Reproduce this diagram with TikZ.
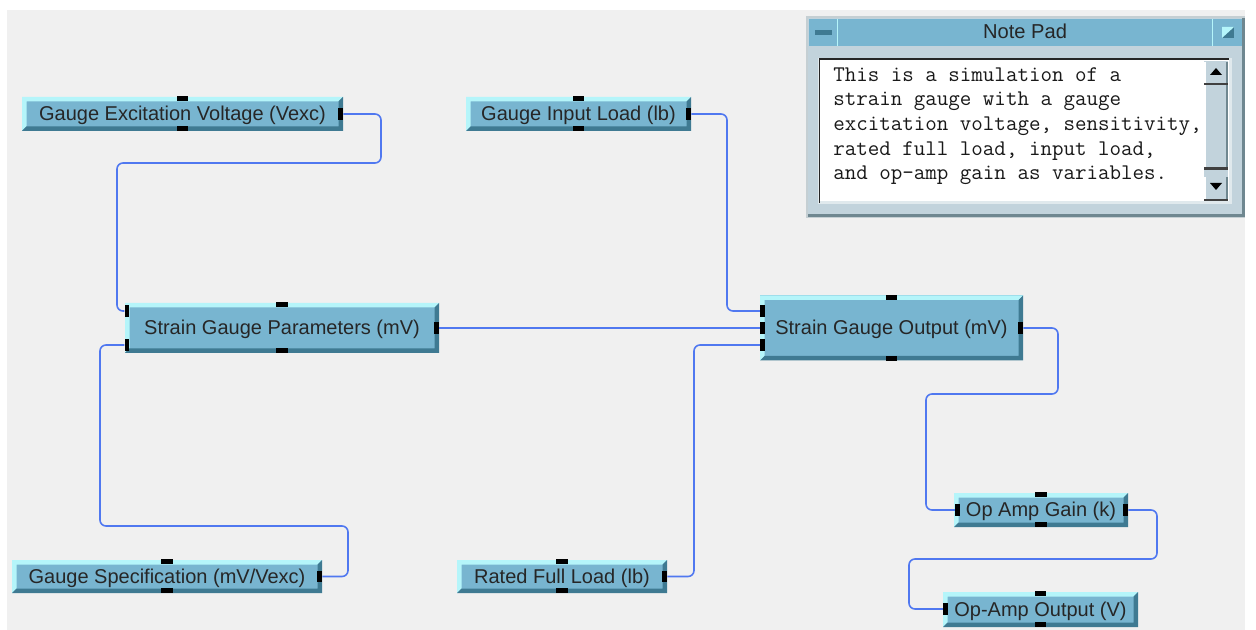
\documentclass[tikz,border=0pt]{standalone}
\usepackage{fontspec}
\setmainfont{Liberation Sans}
\usetikzlibrary{positioning,calc}

\definecolor{canvasgray}{HTML}{F0F0F0}
\definecolor{faceblue}{HTML}{78B5D0}
\definecolor{lightedge}{HTML}{B5F5FA}
\definecolor{darkedge}{HTML}{3F7A92}
\definecolor{wireblue}{HTML}{5078F0}
\definecolor{padgray}{HTML}{C2D3DC}
\definecolor{paddark}{HTML}{6F8790}

\tikzset{
  block/.style 2 args={rectangle, inner sep=0pt, fill=faceblue, text=black!85,
    minimum width=#1*0.75pt, minimum height=#2*0.75pt,
    text height=12pt, text depth=1.5pt,
    font=\fontsize{15}{16}\selectfont,
    path picture={
      \fill[lightedge] (path picture bounding box.north west) -- (path picture bounding box.north east)
        -- ++(-4.5,4.5) -| ($(path picture bounding box.south west)+(4.5,-4.5)$)
        -- (path picture bounding box.south west) -- cycle;
      \fill[darkedge] (path picture bounding box.south east) -- (path picture bounding box.south west)
        -- ++(4.5,-4.5) -| ($(path picture bounding box.north east)+(-4.5,4.5)$)
        -- (path picture bounding box.north east) -- cycle;
    }},
  porth/.style={rectangle, inner sep=0pt, fill=black, minimum width=8.5pt, minimum height=3.5pt},
  portv/.style={rectangle, inner sep=0pt, fill=black, minimum width=3.5pt, minimum height=8.5pt},
  wire/.style={draw=wireblue, line width=1.2pt, rounded corners=4.5pt},
  scrollbtn/.style={fill=padgray},
}

\begin{document}
\begin{tikzpicture}[x=0.75pt,y=-0.75pt]
\useasboundingbox (0,0) rectangle (1256,630);
\fill[white] (0,0) rectangle (1256,630);
\fill[canvasgray] (7,10) rectangle (1245,630);

% blocks
\node[block={321}{34}] (vexc) at (182.5,114) {Gauge Excitation Voltage (Vexc)};
\node[block={225}{34}] (load) at (578.5,114) {Gauge Input Load (lb)};
\node[block={314}{50}] (params) at (282,328) {Strain Gauge Parameters (mV)};
\node[block={263}{65}] (output) at (891.5,328) {Strain Gauge Output (mV)};
\node[block={310}{33}] (spec) at (167,576.5) {Gauge Specification (mV/Vexc)};
\node[block={210}{33}] (rated) at (562,576.5) {Rated Full Load (lb)};
\node[block={174}{34}] (gain) at (1041,510) {Op Amp Gain (k)};
\node[block={195}{35}] (opout) at (1040.5,609.5) {Op-Amp Output (V)};

% sequence pins
\foreach \b in {vexc,load,params,output,spec,rated,gain,opout} {
  \node[porth] (\b Top) at ($(\b.north)+(0,2)$) {};
  \node[porth] (\b Bot) at ($(\b.south)+(0,-2.5)$) {};
}

% data pins
\foreach \b in {vexc,load,params,output,spec,rated,gain} {
  \node[portv] (\b Out) at ($(\b.east)+(-2.5,0)$) {};
}
\node[portv] (paramsInA) at (127,311) {};
\node[portv] (paramsInB) at (127,345) {};
\node[portv] (outputInA) at (762.5,311) {};
\node[portv] (outputInB) at (762.5,328) {};
\node[portv] (outputInC) at (762.5,345) {};
\node[portv] (gainIn) at (957.5,510) {};
\node[portv] (opoutIn) at (945.5,609) {};

% wires
\draw[wire] (vexcOut.east) -| (381,163) -| (117,311) -- (paramsInA.west);
\draw[wire] (loadOut.east) -| (727,311) -- (outputInA.west);
\draw[wire] (paramsOut.east) -- (outputInB.west);
\draw[wire] (specOut.east) -| (348,526) -| (100,345) -- (paramsInB.west);
\draw[wire] (ratedOut.east) -| (694,345) -- (outputInC.west);
\draw[wire] (outputOut.east) -| (1058,394) -| (926,510) -- (gainIn.west);
\draw[wire] (gainOut.east) -| (1157,559) -| (909,609) -- (opoutIn.west);

% note pad
\fill[white!60!paddark] (806,16) rectangle (1245,218);
\fill[paddark] (808,18) rectangle (1245,217);
\fill[padgray] (808,18) rectangle (1242,214);
\fill[faceblue] (809,19) rectangle (1242,46);
\draw[lightedge, line width=0.6pt] (837,19) -- (837,46) (1212,19) -- (1212,46);
\fill[darkedge] (815,30) rectangle (832,35);
\fill[darkedge] (1222,27) rectangle (1234,38);
\fill[lightedge] (1222,27) -- (1234,27) -- (1222,38) -- cycle;
\node[font=\fontsize{15.1}{16}\selectfont, text=black!85] (padTitle) at (1025,31.5) {Note Pad};
\fill[white!50!padgray] (818,58) rectangle (1232,204);
\fill[white] (820,60) rectangle (1229,201);
\draw[black!85, line width=1.2pt] (819.5,203) |- (1229,59);
% scroll bar
\fill[scrollbtn] (1204,61) rectangle (1228,200);
\foreach \ya/\yb in {62/83,85/168,177/200} {
  \fill[white] (1204,\ya) rectangle (1206,\yb);
  \fill[paddark] (1226,\ya) rectangle (1228,\yb);
}
\fill[black!75] (1204,83) rectangle (1228,85);
\fill[black!75] (1204,167) rectangle (1228,170);
\fill[black!75] (1204,199) rectangle (1228,201);
\fill[black] (1216,68) -- (1222,75) -- (1210,75) -- cycle;
\fill[black] (1216,190) -- (1222,183) -- (1210,183) -- cycle;
\node[anchor=north west, align=left, inner sep=0pt, text=black!90,
  font=\ttfamily\fontsize{16.77}{18.55}\selectfont] (padText) at (833,67) {This is a simulation of a\\strain gauge with a gauge\\excitation voltage, sensitivity,\\rated full load, input load,\\and op-amp gain as variables.};
\end{tikzpicture}
\end{document}
